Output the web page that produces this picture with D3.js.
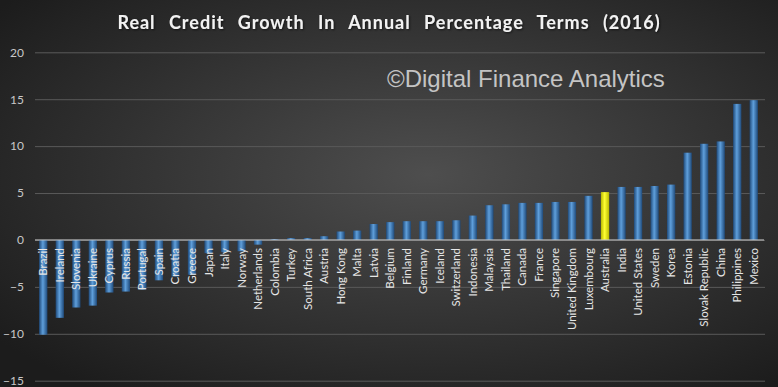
<!DOCTYPE html>
<html>
<head>
<meta charset="utf-8">
<script src="https://cdn.jsdelivr.net/npm/d3@7"></script>
<style>
  html, body { margin: 0; padding: 0; background: #222; }
  svg { display: block; }
</style>
</head>
<body>
<svg id="chart" width="778" height="387"></svg>
<script>
var countries = ['Brazil', 'Ireland', 'Slovenia', 'Ukraine', 'Cyprus', 'Russia', 'Portugal', 'Spain',
  'Croatia', 'Greece', 'Japan', 'Italy', 'Norway', 'Netherlands', 'Colombia', 'Turkey', 'South Africa',
  'Austria', 'Hong Kong', 'Malta', 'Latvia', 'Belgium', 'Finland', 'Germany', 'Iceland', 'Switzerland',
  'Indonesia', 'Malaysia', 'Thailand', 'Canada', 'France', 'Singapore', 'United Kingdom', 'Luxembourg',
  'Australia', 'India', 'United States', 'Sweden', 'Korea', 'Estonia', 'Slovak Republic', 'China',
  'Philippines', 'Mexico'];
var growth = [-10.1, -8.3, -7.2, -7.0, -5.6, -5.5, -5.3, -4.3,
  -3.9, -3.7, -1.4, -1.3, -1.2, -0.5, 0.1, 0.2, 0.2,
  0.4, 0.9, 1.0, 1.7, 1.9, 2.0, 2.0, 2.0, 2.1,
  2.6, 3.7, 3.8, 3.95, 3.95, 4.05, 4.05, 4.7,
  5.1, 5.65, 5.65, 5.75, 5.9, 9.3, 10.25, 10.5,
  14.5, 14.9];
var highlight = 'Australia';
var yTicks = [-15, -10, -5, 0, 5, 10, 15, 20];

var chartTitle = 'Real Credit Growth In Annual Percentage Terms (2016)';
var watermark = '\u00A9Digital Finance Analytics';

var width = 778, height = 387;
var svg = d3.select('#chart');

// background
var defs = svg.append('defs');
var bg = defs.append('radialGradient')
  .attr('id', 'bg')
  .attr('cx', '55%').attr('cy', '45%').attr('r', '70%');
bg.append('stop').attr('offset', '0%').attr('stop-color', '#4e4e4e');
bg.append('stop').attr('offset', '100%').attr('stop-color', '#1c1c1c');

function barGradient(id, edge, mid) {
  var g = defs.append('linearGradient').attr('id', id)
    .attr('x1', '0%').attr('x2', '100%').attr('y1', '0%').attr('y2', '0%');
  g.append('stop').attr('offset', '0%').attr('stop-color', edge);
  g.append('stop').attr('offset', '45%').attr('stop-color', mid);
  g.append('stop').attr('offset', '100%').attr('stop-color', edge);
}
barGradient('blueBar', '#1f4a7a', '#5f9fdb');
barGradient('yellowBar', '#b8b800', '#ffff33');

var shadow = defs.append('filter').attr('id', 'shadow')
  .attr('x', '-5%').attr('y', '-20%').attr('width', '110%').attr('height', '150%');
shadow.append('feDropShadow')
  .attr('dx', 1).attr('dy', 1).attr('stdDeviation', 1)
  .attr('flood-color', '#000').attr('flood-opacity', 0.6);

svg.append('rect')
  .attr('width', width).attr('height', height)
  .attr('fill', 'url(#bg)');

var x = d3.scaleBand()
  .domain(countries)
  .range([35, 762])
  .paddingInner(0.5)
  .paddingOuter(0.25);

var y = d3.scaleLinear()
  .domain([-15, 20])
  .range([380.7, 52.3]);

// gridlines + y labels
var yAxis = d3.axisLeft(y)
  .tickValues(yTicks)
  .tickSize(-(765 - 35))
  .tickPadding(11);
var yg = svg.append('g')
  .attr('transform', 'translate(35,0)')
  .call(yAxis);
yg.select('.domain').remove();
yg.selectAll('.tick line')
  .attr('stroke', '#5a5a5a')
  .attr('stroke-width', 1);
yg.selectAll('.tick text')
  .attr('fill', '#c8c8c8')
  .attr('font-family', 'Lato, "Noto Sans", sans-serif')
  .attr('font-size', 12);

var rows = countries.map(function (c, i) {
  return { name: c, value: growth[i] };
});

svg.append('g')
  .selectAll('rect')
  .data(rows)
  .join('rect')
  .attr('x', function (d) { return x(d.name); })
  .attr('width', x.bandwidth())
  .attr('y', function (d) { return y(Math.max(0, d.value)); })
  .attr('height', function (d) { return Math.abs(y(d.value) - y(0)); })
  .attr('fill', function (d) {
    return d.name === highlight ? 'url(#yellowBar)' : 'url(#blueBar)';
  });

// zero line
svg.append('line')
  .attr('x1', 35).attr('x2', 764)
  .attr('y1', y(0)).attr('y2', y(0))
  .attr('stroke', '#c8c8c8')
  .attr('stroke-width', 1);

// category labels
svg.append('g')
  .selectAll('text')
  .data(rows)
  .join('text')
  .attr('transform', function (d) {
    return 'translate(' + (x(d.name) + x.bandwidth() / 2) + ',' + (y(0) + 8) + ') rotate(-90)';
  })
  .attr('text-anchor', 'end')
  .attr('dy', '0.35em')
  .attr('fill', '#e6e6e6')
  .attr('font-family', 'Lato, "Noto Sans", sans-serif')
  .attr('font-size', 11.5)
  .text(function (d) { return d.name; });

// title
svg.append('text')
  .attr('x', 389)
  .attr('y', 29)
  .attr('text-anchor', 'middle')
  .attr('fill', '#f2f2f2')
  .attr('font-family', 'Lato, "Noto Sans", sans-serif')
  .attr('font-weight', 'bold')
  .attr('font-size', 18)
  .attr('letter-spacing', 1)
  .attr('word-spacing', 8)
  .attr('filter', 'url(#shadow)')
  .text(chartTitle);

// watermark
svg.append('text')
  .attr('x', 387)
  .attr('y', 87)
  .attr('fill', '#c4c4c4')
  .attr('font-family', '"Liberation Sans", Arial, sans-serif')
  .attr('font-size', 24)
  .text(watermark);
</script>
</body>
</html>
